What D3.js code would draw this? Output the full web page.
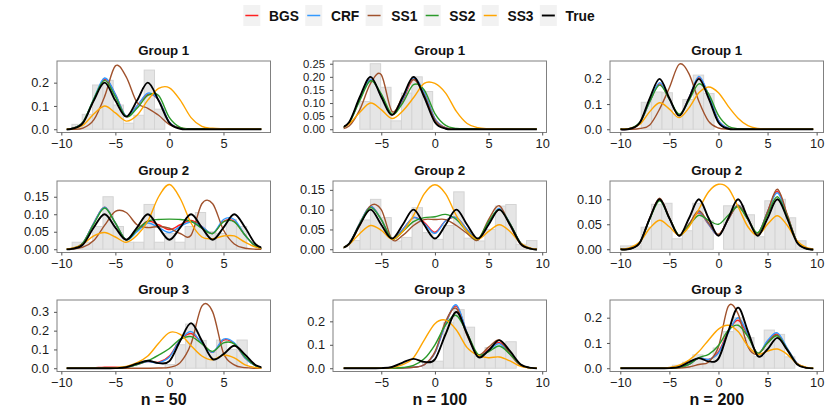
<!DOCTYPE html>
<html>
<head>
<meta charset="utf-8">
<script src="https://cdn.jsdelivr.net/npm/d3@7"></script>
<style>
  body { margin: 0; background: #fff; }
  svg { font-family: "Liberation Sans", Arial, Helvetica, sans-serif; }
</style>
</head>
<body>
<svg id="chart" width="830" height="415"></svg>
<script>
// ---- data ----
const methods = ["BGS", "CRF", "SS1", "SS2", "SS3", "True"];
const methodColors = ["#ff2020", "#3399ff", "#a0522d", "#2a9a2a", "#ffa500", "#000000"];
const sampleLabels = ["n = 50", "n = 100", "n = 200"];
const groupLabels = ["Group 1", "Group 2", "Group 3"];

// x positions where every density curve is sampled
const gridX = [-10, -9, -8, -7, -6, -5, -4, -3, -2, -1, 0, 1, 2, 3, 4, 5, 6, 7, 8, 9, 10];
const xTicks = [-10, -5, 0, 5, 10];

// panels are ordered: n=50 G1, G2, G3, n=100 G1, G2, G3, n=200 G1, G2, G3
const yTicks = [
  [0, 0.1, 0.2], [0, 0.05, 0.1, 0.15], [0, 0.1, 0.2, 0.3],
  [0, 0.05, 0.1, 0.15, 0.2, 0.25], [0, 0.05, 0.1, 0.15], [0, 0.1, 0.2],
  [0, 0.1, 0.2], [0, 0.05, 0.1], [0, 0.1, 0.2]
];
const yTickFormat = [".1f", ".2f", ".1f", ".2f", ".2f", ".1f", ".1f", ".2f", ".1f"];

// histograms
const binStart = [-9.02, -9.0, -0.4, -7.0, -7.95, -1.15, -7.87, -9.98, -4.7];
const binWidth = [0.955, 0.95, 0.95, 0.97, 0.97, 0.97, 1.06, 1.05, 1.04];
const binHeights = [
  [0.021, 0.064, 0.19, 0.21, 0.104, 0.026, 0.06, 0.254, 0.086],
  [0.02, 0.02, 0.065, 0.15, 0.065, 0.02, 0.02, 0.128, 0.02, 0.045, 0.02, 0.065, 0.105, 0.05, 0.045, 0.085, 0.065],
  [0.02, 0.125, 0.235, 0.148, 0.085, 0.15, 0.10, 0.15],
  [0.106, 0.25, 0.16, 0.032, 0.138, 0.2, 0.144],
  [0.022, 0.074, 0.126, 0.08, 0.021, 0.03, 0.105, 0.042, 0.025, 0.06, 0.145, 0.028, 0.021, 0.05, 0.109, 0.113, 0.0125, 0.022],
  [0.025, 0.03, 0.194, 0.25, 0.175, 0.05, 0.088, 0.106, 0.113],
  [0.107, 0.148, 0.145, 0.06, 0.118, 0.215, 0.142],
  [0.0067, 0.007, 0.044, 0.09, 0.092, 0.021, 0.037, 0.092, 0.057, 0, 0.087, 0.087, 0.069, 0.025, 0.097, 0.1, 0.063, 0.017],
  [0.012, 0.024, 0.053, 0.02, 0.08, 0.145, 0.2, 0.121, 0.046, 0.151, 0.134, 0.045]
];

// density estimates, one row of gridX values per panel
const bgsDensity = [
  [0, 0.003, 0.03, 0.125, 0.215, 0.15, 0.055, 0.1, 0.15, 0.125, 0.03, 0.005, 0.001, 0.001, 0.001, 0.001, 0.001, 0.001, 0.001, 0, 0],
  [0, 0.002, 0.018, 0.075, 0.12, 0.075, 0.027, 0.055, 0.08, 0.07, 0.056, 0.07, 0.082, 0.065, 0.045, 0.08, 0.08, 0.04, 0.008, 0.001, 0],
  [0, 0, 0, 0.002, 0.006, 0.005, 0.004, 0.02, 0.035, 0.032, 0.065, 0.15, 0.185, 0.135, 0.085, 0.15, 0.13, 0.055, 0.012, 0.001, 0],
  [0, 0.002, 0.025, 0.115, 0.19, 0.13, 0.056, 0.11, 0.19, 0.14, 0.04, 0.006, 0.001, 0.001, 0.001, 0.001, 0.001, 0, 0, 0, 0],
  [0, 0.001, 0.014, 0.066, 0.108, 0.075, 0.026, 0.05, 0.08, 0.068, 0.043, 0.072, 0.08, 0.05, 0.024, 0.065, 0.1, 0.065, 0.015, 0.001, 0],
  [0, 0, 0, 0, 0, 0, 0, 0.001, 0.004, 0.015, 0.065, 0.19, 0.265, 0.15, 0.055, 0.08, 0.11, 0.06, 0.012, 0.001, 0],
  [0, 0.002, 0.025, 0.11, 0.18, 0.12, 0.056, 0.125, 0.205, 0.135, 0.035, 0.004, 0, 0, 0, 0, 0, 0, 0, 0, 0],
  [0, 0.001, 0.014, 0.062, 0.1, 0.062, 0.027, 0.05, 0.073, 0.05, 0.028, 0.06, 0.088, 0.06, 0.032, 0.075, 0.116, 0.068, 0.015, 0.001, 0],
  [0, 0, 0, 0, 0, 0, 0.003, 0.015, 0.04, 0.035, 0.065, 0.145, 0.19, 0.13, 0.058, 0.105, 0.135, 0.078, 0.02, 0.002, 0]
];
const crfDensity = [
  [0, 0.003, 0.03, 0.13, 0.22, 0.15, 0.056, 0.1, 0.155, 0.125, 0.03, 0.003, 0.001, 0.001, 0.001, 0.001, 0.001, 0.001, 0.001, 0, 0],
  [0, 0.002, 0.018, 0.075, 0.12, 0.075, 0.027, 0.05, 0.075, 0.062, 0.048, 0.065, 0.078, 0.065, 0.045, 0.085, 0.085, 0.04, 0.008, 0.001, 0],
  [0, 0, 0, 0.001, 0.002, 0.002, 0.004, 0.02, 0.035, 0.03, 0.06, 0.15, 0.195, 0.135, 0.085, 0.155, 0.135, 0.055, 0.012, 0.001, 0],
  [0, 0.002, 0.025, 0.115, 0.19, 0.13, 0.056, 0.115, 0.195, 0.14, 0.04, 0.005, 0.001, 0.001, 0.001, 0.001, 0, 0, 0, 0, 0],
  [0, 0.001, 0.014, 0.066, 0.108, 0.075, 0.026, 0.05, 0.08, 0.065, 0.04, 0.072, 0.08, 0.05, 0.024, 0.065, 0.103, 0.065, 0.015, 0.001, 0],
  [0, 0, 0, 0, 0, 0, 0, 0.001, 0.004, 0.015, 0.065, 0.19, 0.27, 0.15, 0.055, 0.075, 0.105, 0.06, 0.013, 0.001, 0],
  [0, 0.002, 0.025, 0.11, 0.185, 0.12, 0.056, 0.125, 0.21, 0.135, 0.035, 0.004, 0, 0, 0, 0, 0, 0, 0, 0, 0],
  [0, 0.001, 0.014, 0.062, 0.1, 0.062, 0.027, 0.05, 0.075, 0.05, 0.028, 0.06, 0.088, 0.06, 0.032, 0.075, 0.113, 0.068, 0.015, 0.001, 0],
  [0, 0, 0, 0, 0, 0, 0.003, 0.015, 0.04, 0.035, 0.06, 0.14, 0.2, 0.135, 0.058, 0.11, 0.14, 0.08, 0.02, 0.002, 0]
];
const ss1Density = [
  [0, 0, 0.005, 0.04, 0.14, 0.272, 0.225, 0.115, 0.09, 0.06, 0.02, 0.004, 0.002, 0.002, 0.002, 0.002, 0.002, 0.002, 0.001, 0, 0],
  [0, 0.001, 0.006, 0.025, 0.068, 0.108, 0.105, 0.07, 0.062, 0.065, 0.06, 0.045, 0.04, 0.13, 0.13, 0.055, 0.015, 0.003, 0, 0, 0],
  [0, 0, 0, 0.001, 0.002, 0.001, 0, 0, 0, 0.001, 0.005, 0.03, 0.13, 0.33, 0.3, 0.08, 0.018, 0.003, 0, 0, 0],
  [0, 0, 0.012, 0.075, 0.175, 0.208, 0.068, 0.125, 0.19, 0.13, 0.035, 0.004, 0.001, 0.001, 0.001, 0.001, 0.001, 0.001, 0, 0, 0],
  [0, 0.001, 0.012, 0.06, 0.11, 0.1, 0.025, 0.035, 0.06, 0.075, 0.075, 0.075, 0.06, 0.04, 0.023, 0.075, 0.11, 0.06, 0.012, 0.001, 0],
  [0, 0, 0, 0, 0, 0, 0, 0.001, 0.004, 0.015, 0.07, 0.2, 0.255, 0.14, 0.058, 0.09, 0.12, 0.06, 0.012, 0.001, 0],
  [0, 0, 0.003, 0.017, 0.08, 0.165, 0.258, 0.22, 0.111, 0.031, 0.005, 0.001, 0, 0, 0, 0, 0, 0, 0, 0, 0],
  [0, 0.001, 0.013, 0.062, 0.102, 0.063, 0.027, 0.05, 0.077, 0.052, 0.03, 0.06, 0.087, 0.06, 0.03, 0.075, 0.12, 0.07, 0.015, 0.001, 0],
  [0, 0, 0, 0, 0, 0, 0.001, 0.005, 0.015, 0.025, 0.085, 0.245, 0.215, 0.085, 0.055, 0.1, 0.13, 0.075, 0.017, 0.002, 0]
];
const ss2Density = [
  [0, 0.003, 0.03, 0.13, 0.21, 0.14, 0.055, 0.09, 0.145, 0.145, 0.05, 0.008, 0.001, 0.001, 0.001, 0.001, 0.001, 0.001, 0.001, 0, 0],
  [0, 0.002, 0.018, 0.072, 0.118, 0.075, 0.027, 0.055, 0.08, 0.085, 0.086, 0.085, 0.08, 0.06, 0.045, 0.078, 0.078, 0.04, 0.008, 0.001, 0],
  [0, 0, 0, 0, 0, 0.001, 0.006, 0.02, 0.04, 0.07, 0.105, 0.155, 0.168, 0.13, 0.09, 0.135, 0.13, 0.06, 0.012, 0.001, 0],
  [0, 0.002, 0.025, 0.11, 0.185, 0.135, 0.058, 0.1, 0.17, 0.15, 0.06, 0.015, 0.003, 0.001, 0.001, 0.001, 0, 0, 0, 0, 0],
  [0, 0.001, 0.014, 0.065, 0.105, 0.075, 0.026, 0.045, 0.07, 0.08, 0.082, 0.088, 0.075, 0.045, 0.025, 0.07, 0.1, 0.065, 0.015, 0.001, 0],
  [0, 0, 0, 0, 0, 0, 0.001, 0.003, 0.012, 0.04, 0.1, 0.185, 0.225, 0.15, 0.06, 0.07, 0.095, 0.06, 0.015, 0.001, 0],
  [0, 0.003, 0.028, 0.11, 0.175, 0.12, 0.06, 0.115, 0.18, 0.14, 0.055, 0.012, 0.002, 0, 0, 0, 0, 0, 0, 0, 0],
  [0, 0.001, 0.014, 0.06, 0.097, 0.062, 0.028, 0.048, 0.068, 0.058, 0.05, 0.068, 0.085, 0.06, 0.033, 0.07, 0.105, 0.065, 0.015, 0.001, 0],
  [0, 0, 0, 0, 0, 0, 0.004, 0.015, 0.042, 0.055, 0.09, 0.15, 0.17, 0.125, 0.06, 0.1, 0.128, 0.075, 0.018, 0.002, 0]
];
const ss3Density = [
  [0, 0.002, 0.017, 0.065, 0.1, 0.07, 0.035, 0.06, 0.125, 0.175, 0.178, 0.125, 0.05, 0.012, 0.004, 0.002, 0.001, 0.001, 0.001, 0, 0],
  [0, 0.003, 0.015, 0.038, 0.048, 0.035, 0.02, 0.04, 0.08, 0.15, 0.185, 0.145, 0.075, 0.035, 0.03, 0.038, 0.038, 0.02, 0.006, 0.001, 0],
  [0, 0, 0, 0, 0, 0.003, 0.01, 0.03, 0.065, 0.133, 0.19, 0.18, 0.12, 0.065, 0.045, 0.07, 0.055, 0.018, 0.003, 0, 0],
  [0, 0.002, 0.02, 0.065, 0.1, 0.075, 0.041, 0.07, 0.12, 0.175, 0.175, 0.138, 0.068, 0.022, 0.006, 0.002, 0.001, 0, 0, 0, 0],
  [0, 0.002, 0.012, 0.04, 0.06, 0.048, 0.025, 0.045, 0.085, 0.14, 0.163, 0.14, 0.085, 0.045, 0.025, 0.045, 0.062, 0.045, 0.015, 0.002, 0],
  [0, 0, 0, 0, 0, 0, 0.003, 0.015, 0.045, 0.12, 0.19, 0.205, 0.163, 0.088, 0.055, 0.045, 0.048, 0.031, 0.008, 0.001, 0],
  [0, 0.003, 0.02, 0.07, 0.105, 0.08, 0.046, 0.085, 0.145, 0.168, 0.145, 0.091, 0.044, 0.014, 0.003, 0.001, 0, 0, 0, 0, 0],
  [0, 0.003, 0.015, 0.042, 0.058, 0.045, 0.028, 0.045, 0.08, 0.115, 0.13, 0.122, 0.085, 0.045, 0.028, 0.05, 0.067, 0.048, 0.017, 0.003, 0],
  [0, 0, 0, 0, 0, 0.003, 0.012, 0.032, 0.066, 0.112, 0.155, 0.17, 0.145, 0.088, 0.055, 0.068, 0.076, 0.055, 0.018, 0.003, 0]
];
// true densities, one per group (same in every column)
const trueDensity = [
  [0, 0.002, 0.027, 0.123, 0.2, 0.123, 0.054, 0.123, 0.2, 0.123, 0.027, 0.002, 0, 0, 0, 0, 0, 0, 0, 0, 0],
  [0, 0.001, 0.0135, 0.062, 0.1, 0.062, 0.027, 0.062, 0.1, 0.062, 0.027, 0.062, 0.1, 0.062, 0.027, 0.062, 0.1, 0.062, 0.0135, 0.001, 0],
  [0, 0, 0, 0, 0, 0.0004, 0.0054, 0.0242, 0.04, 0.027, 0.038, 0.146, 0.24, 0.146, 0.0486, 0.0753, 0.12, 0.0726, 0.016, 0.0013, 0]
];

// ---- layout ----
const colLeft = [57, 333, 610];
const rowTop = [61, 181, 300];
const panelW = 213.5, panelH = 71.5;
const xDomains = [[-10.4, 9.35], [-9.5, 10.4], [-11.05, 10.7]];
const curveRanges = [[-9.5, 8.5], [-8.5, 9.5], [-10, 9.65]];
const yDomains = [
  [-0.014, 0.293], [-0.0093, 0.195], [-0.0173, 0.363],
  [-0.0124, 0.2604], [-0.0082, 0.1724], [-0.0139, 0.291],
  [-0.0129, 0.271], [-0.0065, 0.1366], [-0.0129, 0.27]
];
const estimates = [bgsDensity, crfDensity, ss1Density, ss2Density, ss3Density];

const svg = d3.select("#chart");

// legend
const legend = svg.append("g");
let cursor = 0;
methods.forEach((m, i) => {
  const item = legend.append("g").attr("transform", `translate(${cursor},0)`);
  item.append("rect").attr("x", 0).attr("y", 5).attr("width", 17).attr("height", 21)
    .attr("fill", "#f2f2f2");
  item.append("line").attr("x1", 2).attr("x2", 15).attr("y1", 15.5).attr("y2", 15.5)
    .attr("stroke", methodColors[i]).attr("stroke-width", i === 5 ? 1.9 : 1.5);
  const t = item.append("text").attr("x", 25.7).attr("y", 20.6)
    .attr("font-size", 13.8).attr("font-weight", "bold").attr("fill", "#111").text(m);
  cursor += 25.7 + t.node().getComputedTextLength() + 6.3;
});
legend.attr("transform", `translate(${419 - (cursor - 6.3) / 2},0)`);

const line = (x, y) => d3.line()
  .x((d, i) => x(gridX[i]))
  .y(d => y(d))
  .curve(d3.curveCatmullRom.alpha(0));

for (let c = 0; c < 3; c++) {
  for (let r = 0; r < 3; r++) {
    const p = c * 3 + r;
    const g = svg.append("g").attr("transform", `translate(${colLeft[c]},${rowTop[r]})`);
    const x = d3.scaleLinear().domain(xDomains[c]).range([0, panelW]);
    const y = d3.scaleLinear().domain(yDomains[p]).range([panelH, 0]);

    g.append("rect").attr("width", panelW).attr("height", panelH).attr("fill", "#fff");

    const clipId = `clip${p}`;
    g.append("clipPath").attr("id", clipId).append("rect")
      .attr("x", x(curveRanges[c][0])).attr("width", x(curveRanges[c][1]) - x(curveRanges[c][0]))
      .attr("y", -2).attr("height", panelH + 2);

    const bins = binHeights[p].map((v, i) => ({
      x0: binStart[p] + i * binWidth[p],
      x1: binStart[p] + (i + 1) * binWidth[p],
      v
    }));
    g.append("g").selectAll("rect").data(bins).join("rect")
      .attr("x", d => x(d.x0))
      .attr("width", d => x(d.x1) - x(d.x0))
      .attr("y", d => y(d.v))
      .attr("height", d => y(0) - y(d.v))
      .attr("fill", "#e5e5e5")
      .attr("stroke", "#d4d4d4")
      .attr("stroke-width", 1);

    const curves = g.append("g").attr("clip-path", `url(#${clipId})`);
    estimates.forEach((est, m) => {
      curves.append("path").datum(est[p])
        .attr("d", line(x, y))
        .attr("fill", "none")
        .attr("stroke", methodColors[m])
        .attr("stroke-width", 1.4);
    });
    curves.append("path").datum(trueDensity[r])
      .attr("d", line(x, y))
      .attr("fill", "none")
      .attr("stroke", methodColors[5])
      .attr("stroke-width", 1.9);

    g.append("rect").attr("width", panelW).attr("height", panelH)
      .attr("fill", "none").attr("stroke", "#808080").attr("stroke-width", 1);

    const xa = g.append("g").attr("transform", `translate(0,${panelH})`)
      .call(d3.axisBottom(x)
        .tickValues(xTicks.filter(t => t >= xDomains[c][0] && t <= xDomains[c][1]))
        .tickFormat(d3.format("d"))
        .tickSize(3).tickPadding(3.6));
    const ya = g.append("g")
      .call(d3.axisLeft(y).tickValues(yTicks[p]).tickFormat(d3.format(yTickFormat[p]))
        .tickSize(3).tickPadding(5));
    // the six-tick panel has very tight spacing, so its labels are a touch smaller
    const ySize = yTicks[p].length > 5 ? 11.3 : 12.8;
    [xa, ya].forEach((a, k) => {
      a.select(".domain").remove();
      a.selectAll(".tick line").attr("stroke", "#555");
      a.selectAll(".tick text").attr("fill", "#1a1a1a").attr("font-size", k === 1 ? ySize : 12.8)
        .attr("font-family", "'Liberation Sans', Arial, sans-serif");
    });

    g.append("text").attr("x", panelW / 2).attr("y", -6)
      .attr("text-anchor", "middle").attr("font-size", 13.3).attr("font-weight", "bold")
      .attr("fill", "#111").text(groupLabels[r]);
  }
  svg.append("text").attr("x", colLeft[c] + panelW / 2).attr("y", 405)
    .attr("text-anchor", "middle").attr("font-size", 16).attr("font-weight", "bold")
    .attr("fill", "#111").text(sampleLabels[c]);
}
</script>
</body>
</html>
